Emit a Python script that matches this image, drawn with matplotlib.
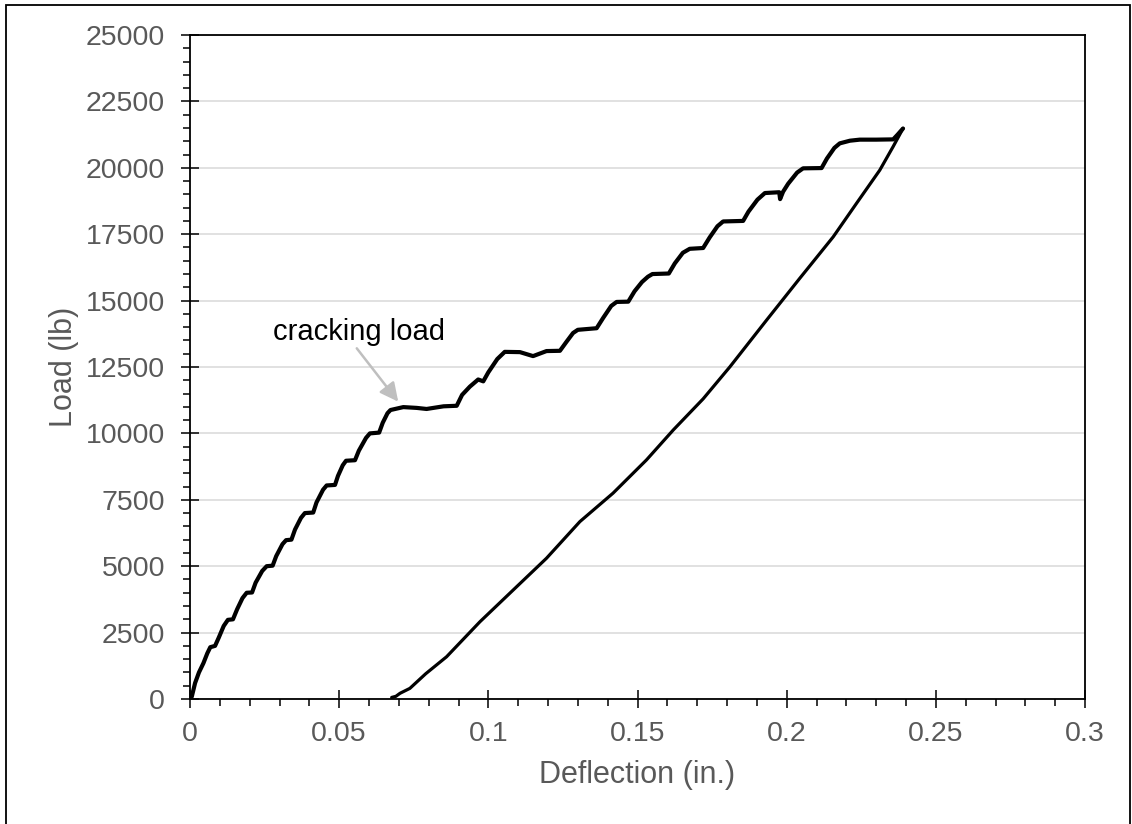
import matplotlib
matplotlib.use('Agg')
import matplotlib.pyplot as plt
from matplotlib.patches import Rectangle
from matplotlib.ticker import MultipleLocator
import numpy as np

plt.rcParams['font.family'] = ['Liberation Sans', 'DejaVu Sans']

# loading branch (deflection in., load lb)
load_x = [0, 0.0006, 0.0017, 0.0030, 0.0045, 0.0058, 0.0068, 0.0084, 0.0096, 0.0113,
          0.0127, 0.0144, 0.0158, 0.0176, 0.0190, 0.0208, 0.0220, 0.0242, 0.0257,
          0.0277, 0.0289, 0.0310, 0.0322, 0.0340, 0.0352, 0.0372, 0.0385, 0.0413,
          0.0424, 0.0446, 0.0458, 0.0486, 0.0496, 0.0512, 0.0523, 0.0553, 0.0566,
          0.0590, 0.0603, 0.0634, 0.0646, 0.0662, 0.0672, 0.0715, 0.0760, 0.0793,
          0.0850, 0.0894, 0.0912, 0.0938, 0.0966, 0.0983, 0.1000, 0.1030, 0.1055,
          0.1106, 0.1150, 0.1195, 0.1240, 0.1262, 0.1284, 0.1300, 0.1363, 0.1385,
          0.1412, 0.1430, 0.1469, 0.1490, 0.1515, 0.1535, 0.1550, 0.1605, 0.1625,
          0.1652, 0.1675, 0.1720, 0.1742, 0.1768, 0.1787, 0.1854, 0.1872, 0.1902,
          0.1927, 0.1975, 0.1978, 0.1988, 0.2005, 0.2035, 0.2055, 0.2117, 0.2135,
          0.2160, 0.2178, 0.2212, 0.2245, 0.2300, 0.2357, 0.2372, 0.2390]
load_y = [0, 90, 600, 1000, 1350, 1720, 1950, 2000, 2300, 2750,
          2980, 3000, 3380, 3800, 4000, 4010, 4380, 4820, 5000,
          5020, 5380, 5830, 5980, 6000, 6380, 6820, 7000, 7020,
          7400, 7880, 8040, 8060, 8400, 8800, 8970, 8990, 9350,
          9830, 10000, 10030, 10400, 10760, 10880, 10990, 10960, 10920,
          11020, 11040, 11450, 11760, 12030, 11960, 12300, 12800, 13070,
          13060, 12910, 13100, 13110, 13450, 13780, 13900, 13960, 14350,
          14800, 14950, 14960, 15350, 15700, 15900, 16000, 16020, 16400,
          16800, 16950, 16980, 17380, 17800, 17980, 18000, 18350, 18800,
          19050, 19080, 18820, 19100, 19400, 19820, 19980, 19990, 20350,
          20750, 20920, 21020, 21060, 21060, 21070, 21250, 21480]

# unloading branch
unload_x = [0.0676, 0.0690, 0.0704, 0.0737, 0.0790, 0.0860, 0.0972, 0.1083,
            0.1195, 0.1307, 0.1418, 0.1530, 0.1620, 0.1720, 0.1810, 0.1933,
            0.2044, 0.2156, 0.2234, 0.2312, 0.2357, 0.2390]
unload_y = [60, 100, 215, 400, 950, 1590, 2910, 4100,
            5300, 6680, 7750, 9000, 10130, 11300, 12510, 14270,
            15840, 17400, 18660, 19910, 20800, 21480]

x_ticks = [0, 0.05, 0.1, 0.15, 0.2, 0.25, 0.3]
x_labels = ['0', '0.05', '0.1', '0.15', '0.2', '0.25', '0.3']
y_ticks = list(range(0, 25001, 2500))

gray = '#595959'

fig = plt.figure(figsize=(11.32, 8.24), dpi=100)
ax = fig.add_axes([190 / 1132, 125 / 824, 895 / 1132, 664 / 824])

ax.grid(axis='y', color='#D9D9D9', lw=1.1, zorder=0)
ax.set_axisbelow(True)

ax.plot(unload_x, unload_y, color='black', lw=2.3, solid_capstyle='round',
        solid_joinstyle='round', zorder=3)
ax.plot(load_x, load_y, color='black', lw=3.0, solid_capstyle='round',
        solid_joinstyle='round', zorder=3)

ax.set_xlim(0, 0.3)
ax.set_ylim(0, 25000)
ax.set_xticks(x_ticks)
ax.set_xticklabels(x_labels)
ax.set_yticks(y_ticks)
ax.xaxis.set_minor_locator(MultipleLocator(0.01))
ax.yaxis.set_minor_locator(MultipleLocator(500))

ax.tick_params(which='major', direction='inout', length=13, width=1.1,
               labelsize=20.5, labelcolor=gray, color='black')
ax.tick_params(axis='x', which='major', pad=9)
ax.tick_params(axis='y', which='major', pad=11.5)
ax.tick_params(which='minor', direction='out', length=5, width=1.1, color='black')
for s in ax.spines.values():
    s.set_linewidth(1.3)
    s.set_color('black')

ax.set_xlabel('Deflection (in.)', fontsize=22, color=gray, labelpad=10)
ax.set_ylabel('Load (lb)', fontsize=22, color=gray, labelpad=5)

ax.annotate('', xy=(0.0698, 11194), xytext=(0.0559, 13204),
            arrowprops=dict(arrowstyle='-|>', color='#BFBFBF', lw=1.8,
                            mutation_scale=28, shrinkA=0, shrinkB=0))
ax.text(0.0566, 13818, 'cracking load', fontsize=21, color='black',
        ha='center', va='center')

fig.patches.append(Rectangle((6 / 1132, -0.05), 1124 / 1132, 0.05 + 819 / 824,
                             transform=fig.transFigure, fill=False,
                             edgecolor='black', lw=1.3))

fig.savefig('out.png', dpi=100)
